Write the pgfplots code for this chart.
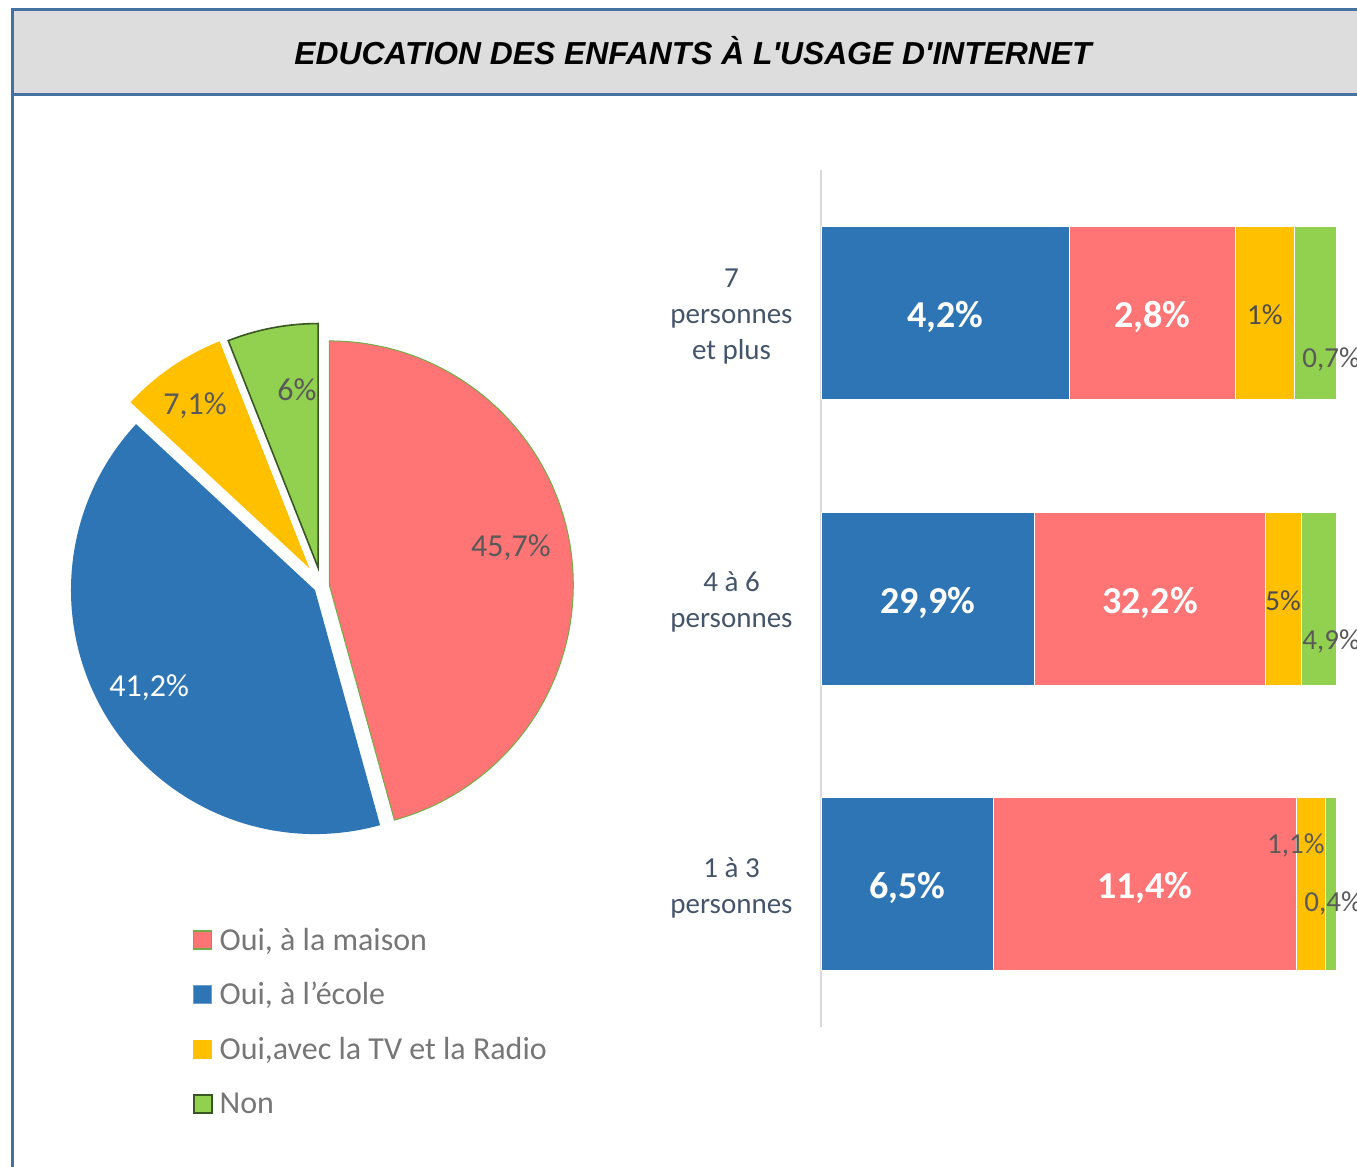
\documentclass[border=0pt]{standalone}
\usepackage{pgfplots}
\usepackage{pgfplotstable}
\pgfplotsset{compat=1.18}
\usepackage{fontspec}
\setmainfont{Carlito}
\newfontfamily\titlefont{Liberation Sans}
\definecolor{cblue}{RGB}{46,117,182}
\definecolor{cpink}{RGB}{255,117,117}
\definecolor{cyellow}{RGB}{255,192,0}
\definecolor{cgreen}{RGB}{146,208,80}
\definecolor{pinkedge}{RGB}{112,173,71}
\definecolor{greenedge}{RGB}{56,87,35}
\definecolor{frameblue}{RGB}{68,114,160}
\definecolor{titlegray}{RGB}{221,221,221}
\definecolor{labgray}{RGB}{89,89,89}
\definecolor{leggray}{RGB}{118,118,118}
\definecolor{catgray}{RGB}{68,84,106}
\definecolor{axgray}{RGB}{217,217,217}
\newcommand\pielab{\fontsize{16}{19}\selectfont}
\newcommand\smlab{\fontsize{14.5}{17}\selectfont}
\newcommand\barlab{\bfseries\fontsize{19}{22}\selectfont}

% shares of each household size row, normalised to 100 (labels give raw %)
\pgfplotstableread{
row blue pink yellow green
1 48.28 32.18 11.49 8.05
2 41.53 44.72 6.94 6.81
3 33.51 58.76 5.67 2.06
}\bardata

\pgfplotsset{barframe/.style={at={(410.5pt,70pt)}, anchor=south west,
  width=257.5pt, height=428.5pt, scale only axis,
  xmin=0, xmax=100, ymin=0.5, ymax=3.5, y dir=reverse, clip=false}}

\begin{document}
\begin{tikzpicture}[x=0.5pt,y=0.5pt]
\path[use as bounding box] (0,0) rectangle (1357,1167);
\clip (0,0) rectangle (1357,1167);
% frame and title
\fill[titlegray] (12,1157) rectangle (1370,1072);
\draw[frameblue, line width=1.5pt] (1370,1157) -- (12,1157) -- (12,-10);
\draw[frameblue, line width=1.5pt] (12,1072) -- (1370,1072);
\node[font=\titlefont\bfseries\itshape\fontsize{15.9}{19}\selectfont] at (693,1116) {EDUCATION DES ENFANTS À L'USAGE D'INTERNET};

% ---------------- pie ----------------
\begin{axis}[at={(160.8pt,290.5pt)}, anchor=center, width=244pt, height=244pt,
  scale only axis, xmin=-1, xmax=1, ymin=-1, ymax=1, hide axis, clip=false,
  legend image code/.code={\draw[#1] (0pt,-3pt) rectangle (9pt,6pt);},
  legend cell align=left,
  legend style={at={(0.2365,-0.205)}, anchor=north west, draw=none, fill=none,
    inner sep=0pt, outer sep=0pt, row sep=14.3pt, column sep=3.5pt,
    font=\fontsize{16}{19}\selectfont, text=leggray,
    nodes={inner sep=0pt, text height=10pt, text depth=3pt}}]
% pink 45.7
\fill[cpink, draw=pinkedge, line width=0.5pt]
  (axis cs:{0.0318*cos(90-3.6*45.7/2)},{0.0318*sin(90-3.6*45.7/2)})
  -- ++(axis direction cs:0,1)
  arc[start angle=90, end angle={90-3.6*45.7}, radius=122pt] -- cycle;
% blue 41.2
\fill[cblue]
  (axis cs:{0.0318*cos(90-3.6*(45.7+41.2/2))},{0.0318*sin(90-3.6*(45.7+41.2/2))})
  -- ++(axis direction cs:{cos(90-3.6*45.7)},{sin(90-3.6*45.7)})
  arc[start angle={90-3.6*45.7}, end angle={90-3.6*(45.7+41.2)}, radius=122pt] -- cycle;
% yellow 7.1
\fill[cyellow]
  (axis cs:{0.0885*cos(90-3.6*(86.9+7.1/2))},{0.0885*sin(90-3.6*(86.9+7.1/2))})
  -- ++(axis direction cs:{cos(90-3.6*86.9)},{sin(90-3.6*86.9)})
  arc[start angle={90-3.6*86.9}, end angle={90-3.6*(86.9+7.1)}, radius=122pt] -- cycle;
% green 6
\fill[cgreen, draw=greenedge, line width=0.8pt]
  (axis cs:{0.077*cos(90-3.6*(94+6/2))},{0.077*sin(90-3.6*(94+6/2))})
  -- ++(axis direction cs:{cos(90-3.6*94)},{sin(90-3.6*94)})
  arc[start angle={90-3.6*94}, end angle={90-3.6*100}, radius=122pt] -- cycle;
\node[font=\pielab, text=labgray] at (axis cs:0.776,0.156) {45,7\%};
\node[font=\pielab, text=white] at (axis cs:-0.707,-0.418) {41,2\%};
\node[font=\pielab, text=labgray] at (axis cs:-0.519,0.738) {7,1\%};
\node[font=\pielab, text=labgray] at (axis cs:-0.101,0.803) {6\%};
\addlegendimage{fill=cpink, draw=pinkedge, line width=0.6pt}
\addlegendentry{Oui, à la maison}
\addlegendimage{fill=cblue, draw=cblue!70!white, line width=0.5pt}
\addlegendentry{Oui, à l’école}
\addlegendimage{fill=cyellow, draw=cyellow}
\addlegendentry{Oui,avec la TV et la Radio}
\addlegendimage{fill=cgreen, draw=greenedge, line width=0.8pt}
\addlegendentry{Non}
\end{axis}

% ---------------- stacked bars ----------------
\begin{axis}[barframe, xbar stacked, bar width=86.5pt,
  axis x line=none, axis y line*=left,
  y axis line style={draw=axgray, line width=1pt},
  ytick={1,2,3}, yticklabels={{7\\personnes\\et plus},{4 à 6\\personnes},{1 à 3\\personnes}},
  major tick length=0pt,
  yticklabel style={align=center, inner sep=0pt, xshift=-14pt, yshift=-1.75pt,
    font=\fontsize{14.5}{18}\selectfont, text=catgray}]
\addplot[fill=cblue, draw=white, line width=0.4pt] table[x=blue, y=row]{\bardata};
\addplot[fill=cpink, draw=white, line width=0.4pt] table[x=pink, y=row]{\bardata};
\addplot[fill=cyellow, draw=white, line width=0.4pt] table[x=yellow, y=row]{\bardata};
\addplot[fill=cgreen, draw=white, line width=0.4pt] table[x=green, y=row]{\bardata};
\end{axis}
% value labels, on top of the bars
\begin{axis}[barframe, hide axis]
\node[font=\barlab, text=white, yshift=-2pt] at (axis cs:24.14,1) {4,2\%};
\node[font=\barlab, text=white, yshift=-2pt] at (axis cs:64.37,1) {2,8\%};
\node[font=\smlab, text=labgray!85!black, yshift=-1pt] at (axis cs:86.2,1) {1\%};
\node[font=\smlab, text=labgray, anchor=west, inner sep=0pt, yshift=-1pt] at (axis cs:93.4,1.155) {0,7\%};
\node[font=\barlab, text=white, yshift=-2pt] at (axis cs:20.77,2) {29,9\%};
\node[font=\barlab, text=white, yshift=-2pt] at (axis cs:63.89,2) {32,2\%};
\node[font=\smlab, text=labgray!85!black, yshift=-1pt] at (axis cs:89.72,2) {5\%};
\node[font=\smlab, text=labgray, anchor=west, inner sep=0pt, yshift=-1pt] at (axis cs:93.4,2.145) {4,9\%};
\node[font=\barlab, text=white, yshift=-2pt] at (axis cs:16.76,3) {6,5\%};
\node[font=\barlab, text=white, yshift=-2pt] at (axis cs:62.89,3) {11,4\%};
\node[font=\smlab, text=labgray, yshift=-1pt] at (axis cs:92.2,2.856) {1,1\%};
\node[font=\smlab, text=labgray, anchor=west, inner sep=0pt, yshift=-1pt] at (axis cs:93.8,3.062) {0,4\%};
\end{axis}
\end{tikzpicture}
\end{document}
